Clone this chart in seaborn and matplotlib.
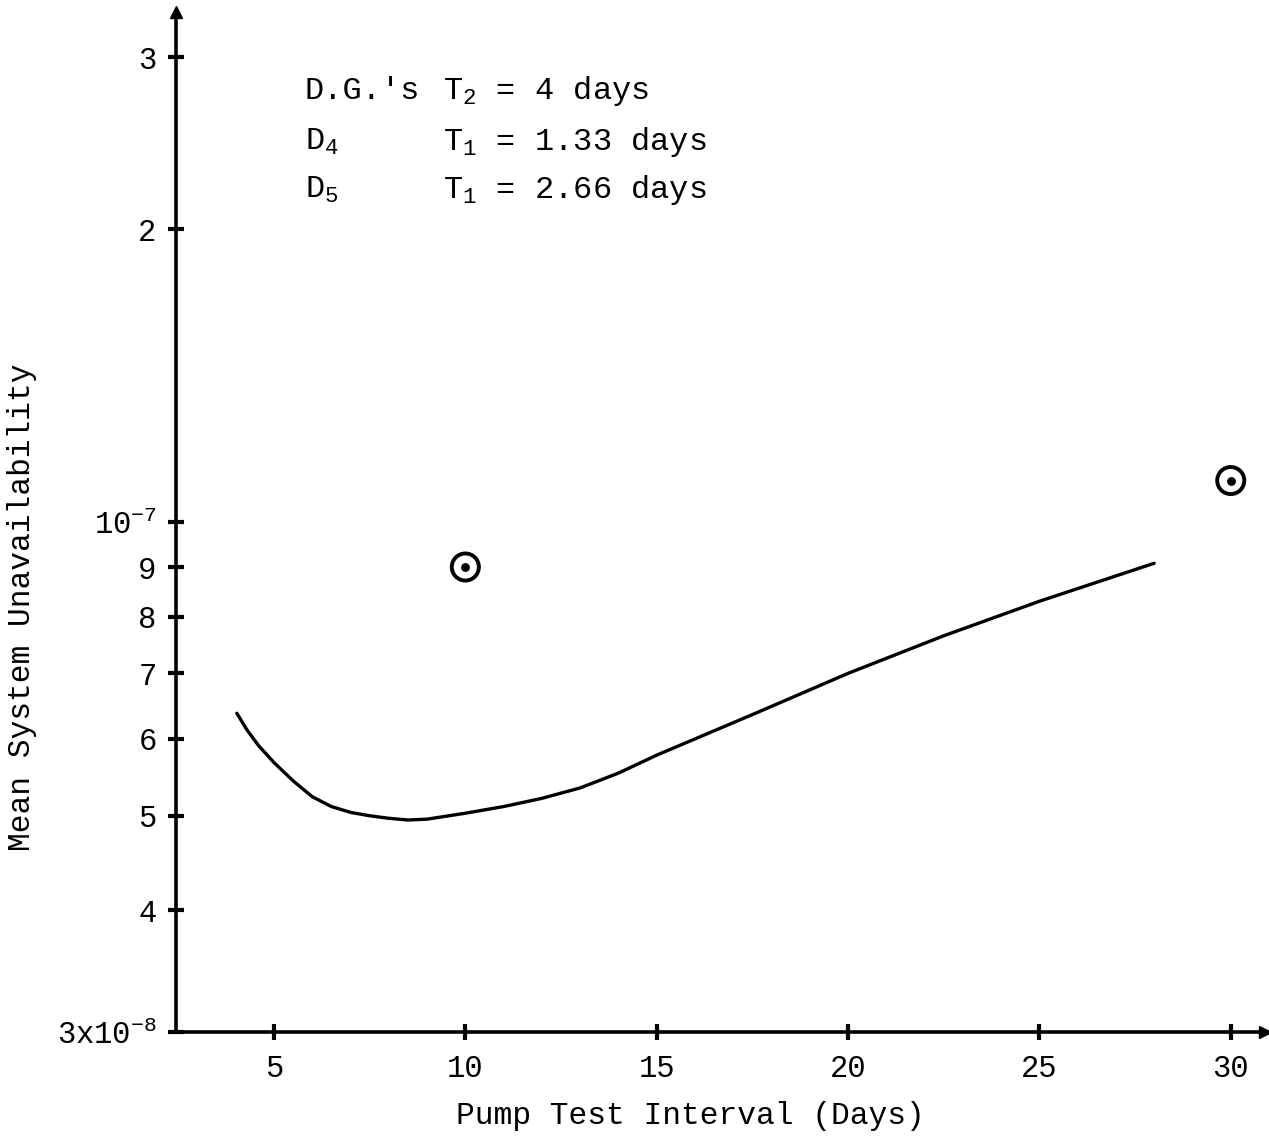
import matplotlib
matplotlib.use("Agg")
import matplotlib.pyplot as plt
import seaborn as sns
import pandas as pd

# ---- data ----
interval_days = [4.03, 4.3, 4.6, 5.0, 5.5, 6.0, 6.5, 7.0, 7.5, 8.0, 8.5, 9.0, 10.0, 11.0, 12.0, 13.0,
                 14.0, 15.0, 17.5, 20.0, 22.5, 25.0, 28.0]
unavailability = [6.37e-8, 6.12e-8, 5.90e-8, 5.67e-8, 5.43e-8, 5.23e-8, 5.11e-8, 5.04e-8, 5.00e-8,
                  4.97e-8, 4.95e-8, 4.96e-8, 5.03e-8, 5.11e-8, 5.21e-8, 5.34e-8, 5.53e-8, 5.77e-8,
                  6.35e-8, 7.0e-8, 7.65e-8, 8.3e-8, 9.08e-8]
point_days = [10, 30]
point_values = [9.0e-8, 1.104e-7]

xticks = [5, 10, 15, 20, 25, 30]
yticks = [3e-8, 4e-8, 5e-8, 6e-8, 7e-8, 8e-8, 9e-8, 1e-7, 2e-7, 3e-7]
yticklabels = ["3x10$^{-8}$", "4", "5", "6", "7", "8", "9", "10$^{-7}$", "2", "3"]

note_left = ["D.G.'s", "D$_4$", "D$_5$"]
note_right = ["T$_2$ = 4 days", "T$_1$ = 1.33 days", "T$_1$ = 2.66 days"]

# ---- style ----
sns.set_theme(style="white")
FONT = "Liberation Mono"
plt.rcParams["font.family"] = [FONT, "DejaVu Sans Mono"]
plt.rcParams["mathtext.fontset"] = "custom"
plt.rcParams["mathtext.rm"] = FONT
plt.rcParams["mathtext.it"] = FONT
plt.rcParams["mathtext.bf"] = FONT

fig = plt.figure(figsize=(12.69, 11.37), dpi=100)
ax = fig.add_axes([0.1387, 0.0924, 0.997 - 0.1387, 0.9894 - 0.0924])

df = pd.DataFrame({"x": interval_days, "y": unavailability})
sns.lineplot(data=df, x="x", y="y", ax=ax, color="black", linewidth=2.4)

pts = pd.DataFrame({"x": point_days, "y": point_values})
sns.scatterplot(data=pts, x="x", y="y", ax=ax, marker="o", s=380,
                facecolor="none", edgecolor="black", linewidth=2.8)
sns.scatterplot(data=pts, x="x", y="y", ax=ax, marker="o", s=34,
                color="black", edgecolor="black")

ax.set_yscale("log")
ax.set_xlim(2.44, 30.9)
ax.set_ylim(3e-8, 3.34e-7)

ax.set_xticks(xticks)
ax.set_xticklabels([str(t) for t in xticks])
ax.set_yticks(yticks)
ax.set_yticklabels(yticklabels)
ax.yaxis.set_minor_locator(matplotlib.ticker.NullLocator())

ax.tick_params(axis="both", which="major", direction="inout", length=12, width=3,
               color="black", labelsize=22, labelcolor="black", bottom=True, left=True)
ax.tick_params(axis="x", pad=10)
ax.tick_params(axis="y", pad=8)

for s in ["top", "right"]:
    ax.spines[s].set_visible(False)
for s in ["left", "bottom"]:
    ax.spines[s].set_color("black")
    ax.spines[s].set_linewidth(2.6)

# axis-end arrowheads
ax.plot([0], [1], marker="^", markersize=9, color="black", transform=ax.transAxes, clip_on=False)
ax.plot([1], [0], marker=">", markersize=9, color="black", transform=ax.transAxes, clip_on=False)

ax.set_xlabel("Pump Test Interval (Days)", fontsize=22.5, color="black")
ax.set_ylabel("Mean System Unavailability", fontsize=22.5, color="black")
ax.xaxis.set_label_coords(0.472, -0.068)
ax.yaxis.set_label_coords(-0.1275, 0.4167)

# annotation block (axes coordinates)
rows_y = [0.923, 0.873, 0.826]
for ly, a, b in zip(rows_y, note_left, note_right):
    ax.text(0.118, ly, a, transform=ax.transAxes, fontsize=23, color="black", va="center", ha="left")
    ax.text(0.245, ly, b, transform=ax.transAxes, fontsize=23, color="black", va="center", ha="left")

fig.savefig("out.png", dpi=100, facecolor="white")
